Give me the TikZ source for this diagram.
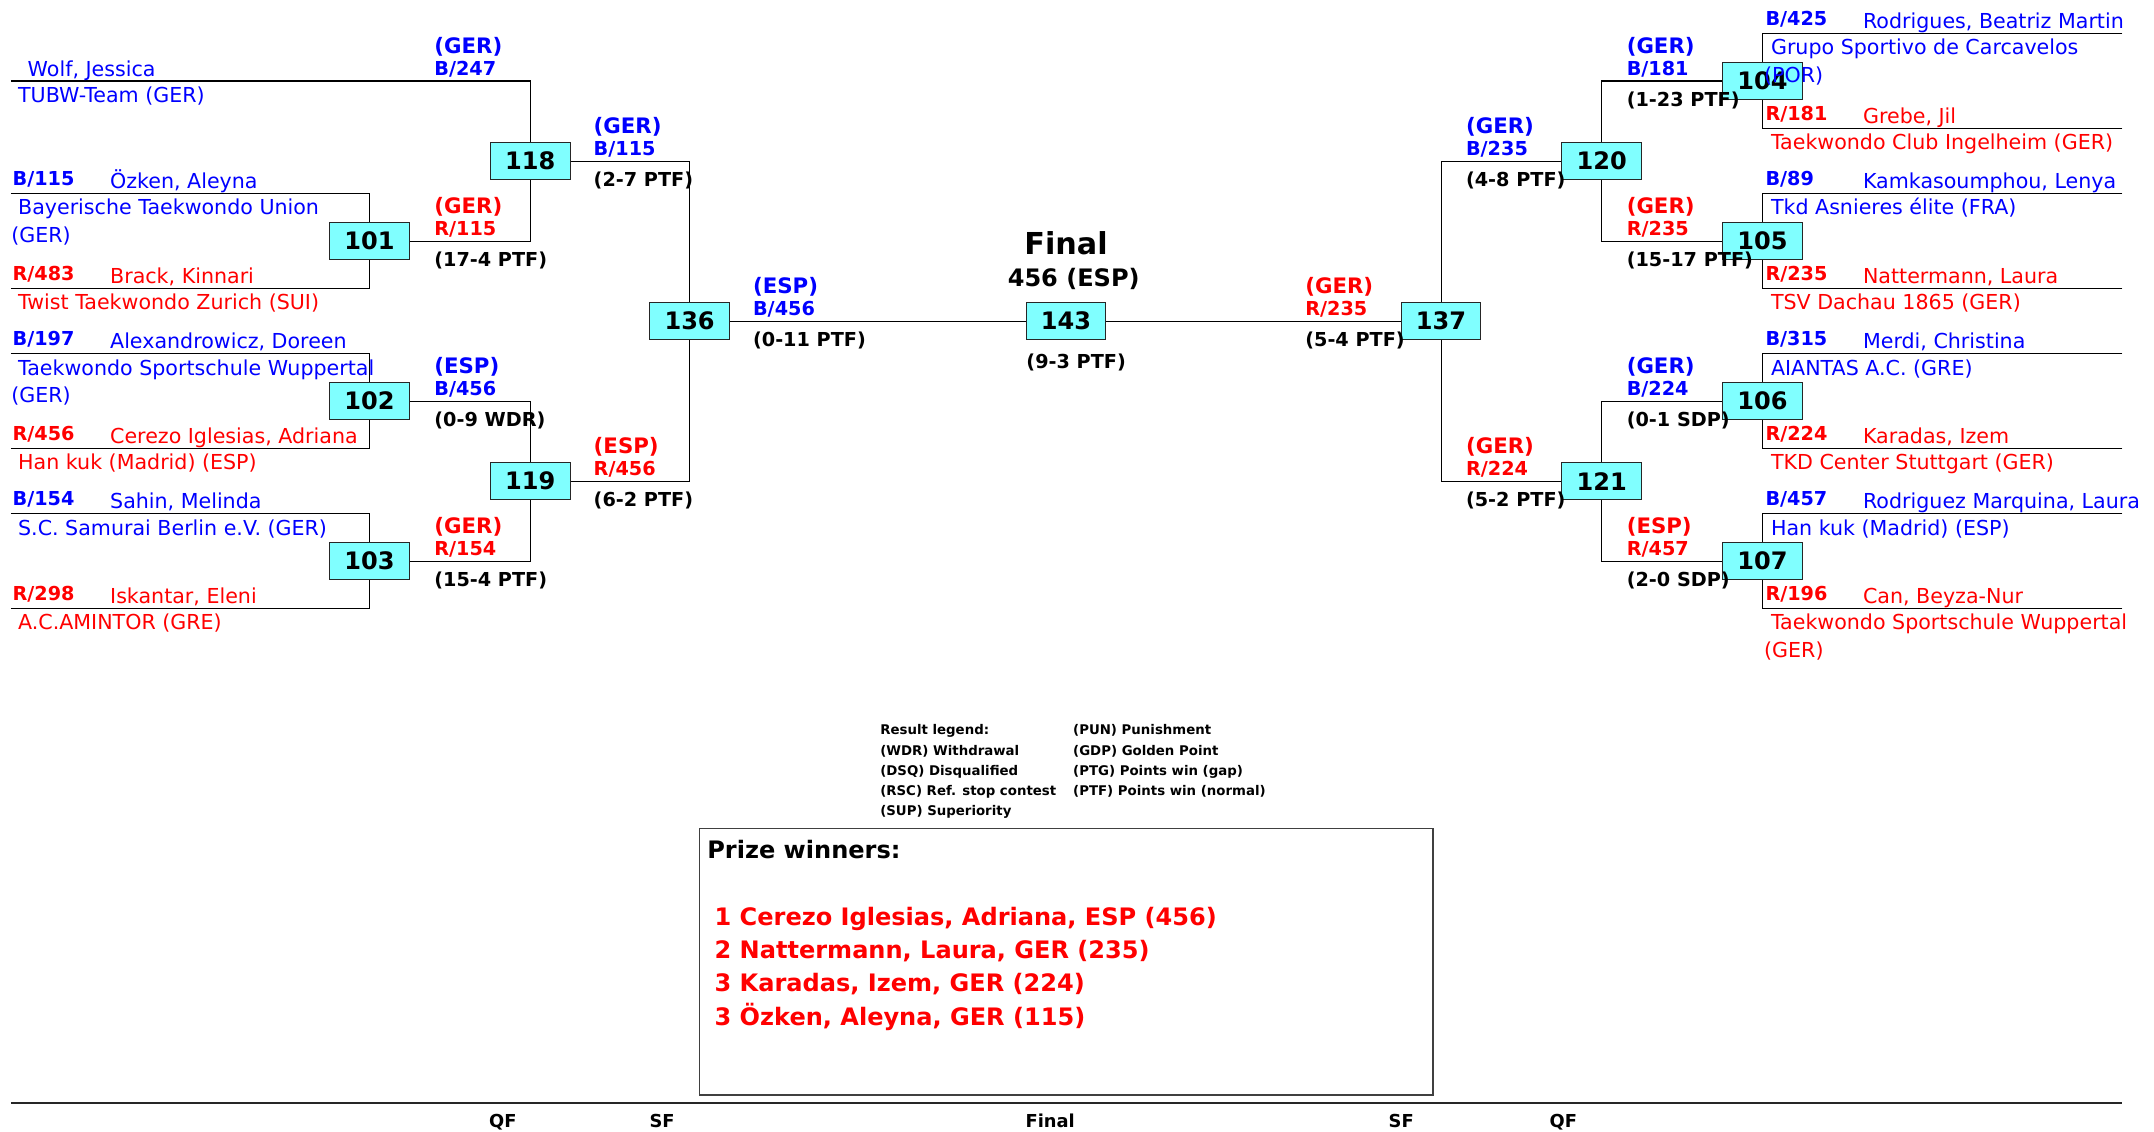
\documentclass[tikz,border=0pt]{standalone}
\usepackage{fontspec}
\setmainfont{DejaVu Sans}
\usetikzlibrary{positioning}
\definecolor{B}{RGB}{0,0,255}
\definecolor{R}{RGB}{255,0,0}
\definecolor{boutfill}{RGB}{128,255,255}
\begin{document}
\begin{tikzpicture}
[x=1pt,y=-1pt,
  boutdecorate/.style={shape=rectangle,draw=black!85,fill=boutfill,line width=0.8pt,
    minimum width=58pt,minimum height=27pt,inner sep=0pt,
    font=\bfseries\fontsize{17.5}{20}\selectfont},%
  linedecorate/.style={-,line width=0.8pt},
  namedecorate/.style={anchor=base west,inner sep=0pt,font=\fontsize{15}{20}\selectfont},
  clubdecorate/.style={anchor=base west,inner sep=0pt,font=\fontsize{15}{20}\selectfont},
  codedecorate/.style={anchor=base west,inner sep=0pt,font=\bfseries\fontsize{14}{16}\selectfont},
  ctydecorate/.style={anchor=base west,inner sep=0pt,font=\bfseries\fontsize{15.5}{18}\selectfont},
  resdecorate/.style={anchor=base west,inner sep=0pt,font=\bfseries\fontsize{14}{16}\selectfont},
  legenddecorate/.style={anchor=base west,inner sep=0pt,font=\bfseries\fontsize{9.7}{14.6}\selectfont},
  prizedecorate/.style={anchor=base west,inner sep=0pt,font=\bfseries\fontsize{17.5}{24.3}\selectfont},
  rounddecorate/.style={anchor=base,inner sep=0pt,font=\bfseries\fontsize{13}{15}\selectfont}]
\useasboundingbox (0,0) rectangle (1568,824);
%% bouts
\foreach \nodename/\x/\y in {101/269/175.5, 102/269/292, 103/269/408.5,
  118/386/117.25, 119/386/350.25, 136/502/233.75, 143/776/233.75,
  137/1049/233.75, 120/1166/117.25, 121/1166/350.25,
  104/1283/59, 105/1283/175.5, 106/1283/292, 107/1283/408.5}
{
  \node (b\nodename) at (\x,\y) [boutdecorate] {\nodename};
}
%% competitors
\coordinate (s1) at (8,59);
\foreach \nodename/\ex/\y in {s2/8/141, s3/8/210, s4/8/257.5, s5/8/326.5,
  s6/8/374, s7/8/443, s8/1545/24.5, s9/1545/93.5, s10/1545/141, s11/1545/210,
  s12/1545/257.5, s13/1545/326.5, s14/1545/374, s15/1545/443}
{
  \coordinate (\nodename) at (\ex,\y);
}
%% lines
\foreach \startnode/\endnode in {s1/b118, s2/b101, s3/b101, s4/b102, s5/b102,
  s6/b103, s7/b103, s8/b104, s9/b104, s10/b105, s11/b105, s12/b106, s13/b106,
  s14/b107, s15/b107, b101/b118, b102/b119, b103/b119, b118/b136, b119/b136,
  b104/b120, b105/b120, b106/b121, b107/b121, b120/b137, b121/b137}
{
  \draw[linedecorate] (\startnode) -| (\endnode);
}
\draw[linedecorate] (b136) -- (b143) -- (b137);
%% competitor texts
\node (s1-name) at (20,55.5) [namedecorate,text=B] {Wolf, Jessica};
\node (s1-club) at (8,74.5) [clubdecorate,text=B] {\hspace*{5pt}TUBW-Team (GER)};
\foreach \nodename/\tx/\col/\num/\y/\name/\club in {
  s2/8/B/115/141/{Özken, Aleyna}/{Bayerische Taekwondo Union\\(GER)},
  s3/8/R/483/210/{Brack, Kinnari}/{Twist Taekwondo Zurich (SUI)},
  s4/8/B/197/257.5/{Alexandrowicz, Doreen}/{Taekwondo Sportschule Wuppertal\\(GER)},
  s5/8/R/456/326.5/{Cerezo Iglesias, Adriana}/{Han kuk (Madrid) (ESP)},
  s6/8/B/154/374/{Sahin, Melinda}/{S.C. Samurai Berlin e.V. (GER)},
  s7/8/R/298/443/{Iskantar, Eleni}/{A.C.AMINTOR (GRE)},
  s8/1284/B/425/24.5/{Rodrigues, Beatriz Martin}/{Grupo Sportivo de Carcavelos\\(POR)},
  s9/1284/R/181/93.5/{Grebe, Jil}/{Taekwondo Club Ingelheim (GER)},
  s10/1284/B/89/141/{Kamkasoumphou, Lenya}/{Tkd Asnieres élite (FRA)},
  s11/1284/R/235/210/{Nattermann, Laura}/{TSV Dachau 1865 (GER)},
  s12/1284/B/315/257.5/{Merdi, Christina}/{AIANTAS A.C. (GRE)},
  s13/1284/R/224/326.5/{Karadas, Izem}/{TKD Center Stuttgart (GER)},
  s14/1284/B/457/374/{Rodriguez Marquina, Laura}/{Han kuk (Madrid) (ESP)},
  s15/1284/R/196/443/{Can, Beyza-Nur}/{Taekwondo Sportschule Wuppertal\\(GER)}}
{
  \node (\nodename-code) at (\tx+1,\y-6) [codedecorate,text=\col] {\col/\num};
  \node (\nodename-name) at (\tx+72,\y-3.5) [namedecorate,text=\col] {\name};
  \node (\nodename-club) at (\tx,\y+15.5) [clubdecorate,text=\col]
    {\begin{tabular}[t]{@{}l@{}}\hspace*{5pt}\club\end{tabular}};
}
%% winners on the lines
\foreach \nodename/\x/\y/\cty/\col/\num/\res in {
  w1/316/59/GER/B/247/{},
  w101/316/175.5/GER/R/115/{(17-4 PTF)},
  w102/316/292/ESP/B/456/{(0-9 WDR)},
  w103/316/408.5/GER/R/154/{(15-4 PTF)},
  w118/432/117.25/GER/B/115/{(2-7 PTF)},
  w119/432/350.25/ESP/R/456/{(6-2 PTF)},
  w136/548/233.75/ESP/B/456/{(0-11 PTF)},
  w137/950/233.75/GER/R/235/{(5-4 PTF)},
  w120/1067/117.25/GER/B/235/{(4-8 PTF)},
  w121/1067/350.25/GER/R/224/{(5-2 PTF)},
  w104/1184/59/GER/B/181/{(1-23 PTF)},
  w105/1184/175.5/GER/R/235/{(15-17 PTF)},
  w106/1184/292/GER/B/224/{(0-1 SDP)},
  w107/1184/408.5/ESP/R/457/{(2-0 SDP)}}
{
  \node (\nodename-cty) at (\x,\y-20.4) [ctydecorate,text=\col] {(\cty)};
  \node (\nodename-code) at (\x,\y-4) [codedecorate,text=\col] {\col/\num};
  \node (\nodename-res) at (\x,\y+18.4) [resdecorate] {\res};
}
%% final
\node (w143-res) at (747,268) [resdecorate] {(9-3 PTF)};
\node (finaltitle) at (776,185.6) [anchor=base,inner sep=0pt,font=\bfseries\fontsize{22}{26}\selectfont] {Final};
\node (finalwinner) at (781.6,208.7) [anchor=base,inner sep=0pt,font=\bfseries\fontsize{17.5}{20}\selectfont] {456 (ESP)};
%% legend
\node (legendl) at (640.6,535) [legenddecorate]
  {\begin{tabular}[t]{@{}l@{}}Result legend:\\(WDR) Withdrawal\\(DSQ) Disqualified\\(RSC) Ref. stop contest\\(SUP) Superiority\end{tabular}};
\node (legendr) at (781,535) [legenddecorate]
  {\begin{tabular}[t]{@{}l@{}}(PUN) Punishment\\(GDP) Golden Point\\(PTG) Points win (gap)\\(PTF) Points win (normal)\end{tabular}};
%% prize winners
\node (prizebox) at (776,700) [draw=black!75,line width=1pt,minimum width=534pt,minimum height=194pt,inner sep=0pt] {};
\node (prizetitle) at (514.7,624.8) [prizedecorate] {Prize winners:};
\foreach \i/\txt in {1/{1 Cerezo Iglesias, Adriana, ESP (456)}, 2/{2 Nattermann, Laura, GER (235)},
  3/{3 Karadas, Izem, GER (224)}, 4/{3 Özken, Aleyna, GER (115)}}
{
  \node (prize\i) at (520,673.4+24.3*\i-24.3) [prizedecorate,text=R] {\txt};
}
%% rounds
\coordinate (rulestart) at (8,802.7);
\coordinate (ruleend) at (1545,802.7);
\draw[line width=1.5pt,black!85] (rulestart) -- (ruleend);
\foreach \nodename/\x/\txt in {qfl/366/QF, sfl/482/SF, fin/764.5/Final, sfr/1020/SF, qfr/1138/QF}
{
  \node (\nodename) at (\x,821) [rounddecorate] {\txt};
}
\end{tikzpicture}
\end{document}
